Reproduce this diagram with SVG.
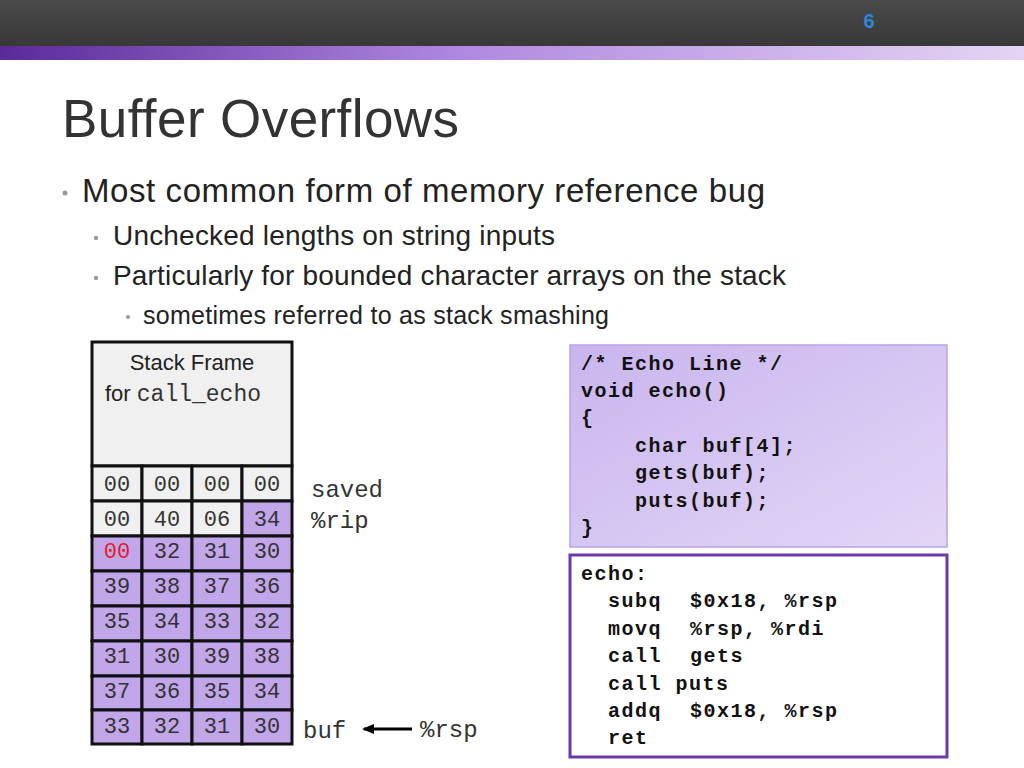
<svg xmlns="http://www.w3.org/2000/svg" width="1024" height="768" viewBox="0 0 1024 768">
<defs>
<linearGradient id="hdr" x1="0" y1="0" x2="0" y2="1"><stop offset="0" stop-color="#4a4a4a"/><stop offset="1" stop-color="#383838"/></linearGradient>
<linearGradient id="bar" x1="0" y1="0" x2="1" y2="0"><stop offset="0" stop-color="#5a2a9a"/><stop offset="0.45" stop-color="#b088e0"/><stop offset="1" stop-color="#e4d4f4"/></linearGradient>
<linearGradient id="code" x1="0" y1="0" x2="1" y2="1"><stop offset="0" stop-color="#c9b5ee"/><stop offset="1" stop-color="#e2d6f6"/></linearGradient>
<marker id="ah" markerWidth="12" markerHeight="10" refX="10" refY="5" orient="auto" markerUnits="userSpaceOnUse"><path d="M0,0 L12,5 L0,10 z" fill="#000"/></marker>
</defs>
<style>
.s{font-family:"Liberation Sans",Arial,sans-serif;fill:#222}
.m{font-family:"Liberation Mono","Courier New",monospace;fill:#333;font-size:22px}
.cb{font-family:"Liberation Mono","Courier New",monospace;font-weight:bold;fill:#111;font-size:20px;letter-spacing:1.5px}
.g{fill:#f0f0f0;stroke:#111;stroke-width:3}
.p{fill:#c2a6ea;stroke:#111;stroke-width:3}
.b{fill:#999}
</style>
<rect width="1024" height="768" fill="#fff"/>
<rect width="1024" height="47" fill="url(#hdr)"/>
<rect y="46" width="1024" height="14" fill="url(#bar)"/>
<text x="869" y="28" class="s" font-size="20" font-weight="bold" style="fill:#2f86d6" text-anchor="middle">6</text>
<text x="62" y="137" class="s" font-size="53" letter-spacing="-1" style="fill:#333" textLength="396">Buffer Overflows</text>
<circle cx="65" cy="193" r="2.5" class="b"/><text x="82" y="202" class="s" font-size="33" textLength="683">Most common form of memory reference bug</text>
<circle cx="96" cy="238" r="2.2" class="b"/><text x="113" y="245" class="s" font-size="28" textLength="442">Unchecked lengths on string inputs</text>
<circle cx="96" cy="278" r="2.2" class="b"/><text x="113" y="285" class="s" font-size="28" textLength="673">Particularly for bounded character arrays on the stack</text>
<circle cx="128" cy="317" r="2" class="b"/><text x="143" y="324" class="s" font-size="25" textLength="466">sometimes referred to as stack smashing</text>
<g id="frame"><rect x="92" y="342" width="200" height="124" class="g"/>
<text x="192" y="370" class="s" font-size="22" text-anchor="middle">Stack Frame</text>
<text x="105" y="401" class="s" font-size="22">for <tspan class="m" style="font-size:23px">call_echo</tspan></text></g>
<g id="stack">
<g class="g"><rect x="92" y="466" width="50" height="35"/><rect x="142" y="466" width="50" height="35"/><rect x="192" y="466" width="50" height="35"/><rect x="242" y="466" width="50" height="35"/>
<rect x="92" y="501" width="50" height="35"/><rect x="142" y="501" width="50" height="35"/><rect x="192" y="501" width="50" height="35"/></g>
<g class="p"><rect x="242" y="501" width="50" height="35"/>
<rect x="92" y="536" width="50" height="35"/><rect x="142" y="536" width="50" height="35"/><rect x="192" y="536" width="50" height="35"/><rect x="242" y="536" width="50" height="35"/>
<rect x="92" y="571" width="50" height="35"/><rect x="142" y="571" width="50" height="35"/><rect x="192" y="571" width="50" height="35"/><rect x="242" y="571" width="50" height="35"/>
<rect x="92" y="606" width="50" height="35"/><rect x="142" y="606" width="50" height="35"/><rect x="192" y="606" width="50" height="35"/><rect x="242" y="606" width="50" height="35"/>
<rect x="92" y="641" width="50" height="35"/><rect x="142" y="641" width="50" height="35"/><rect x="192" y="641" width="50" height="35"/><rect x="242" y="641" width="50" height="35"/>
<rect x="92" y="676" width="50" height="34"/><rect x="142" y="676" width="50" height="34"/><rect x="192" y="676" width="50" height="34"/><rect x="242" y="676" width="50" height="34"/>
<rect x="92" y="710" width="50" height="34"/><rect x="142" y="710" width="50" height="34"/><rect x="192" y="710" width="50" height="34"/><rect x="242" y="710" width="50" height="34"/></g>
<g class="m" text-anchor="middle">
<text x="117" y="491">00</text><text x="167" y="491">00</text><text x="217" y="491">00</text><text x="267" y="491">00</text>
<text x="117" y="526">00</text><text x="167" y="526">40</text><text x="217" y="526">06</text><text x="267" y="526">34</text>
<text x="117" y="558" style="fill:#e0202a">00</text><text x="167" y="558">32</text><text x="217" y="558">31</text><text x="267" y="558">30</text>
<text x="117" y="593">39</text><text x="167" y="593">38</text><text x="217" y="593">37</text><text x="267" y="593">36</text>
<text x="117" y="628">35</text><text x="167" y="628">34</text><text x="217" y="628">33</text><text x="267" y="628">32</text>
<text x="117" y="663">31</text><text x="167" y="663">30</text><text x="217" y="663">39</text><text x="267" y="663">38</text>
<text x="117" y="698">37</text><text x="167" y="698">36</text><text x="217" y="698">35</text><text x="267" y="698">34</text>
<text x="117" y="733">33</text><text x="167" y="733">32</text><text x="217" y="733">31</text><text x="267" y="733">30</text>
</g></g>
<g id="labels" class="m" style="font-size:24px"><text x="311" y="497">saved</text><text x="311" y="528">%rip</text>
<text x="303" y="738">buf</text><text x="420" y="737">%rsp</text></g>
<g id="connectors"><line x1="412" y1="729" x2="364" y2="729" stroke="#000" stroke-width="3" marker-end="url(#ah)"/></g>
<g id="ccode"><rect x="570" y="345" width="377" height="202" fill="url(#code)" stroke="#b9a4e2" stroke-width="1.5"/>
<g class="cb"><text x="581" y="370">/* Echo Line */</text><text x="581" y="397">void echo()</text><text x="581" y="424">{</text>
<text x="635" y="452">char buf[4];</text><text x="635" y="479">gets(buf);</text><text x="635" y="507">puts(buf);</text><text x="581" y="534">}</text></g></g>
<g id="asm"><rect x="570" y="555" width="377" height="202" fill="#fff" stroke="#6a3aa8" stroke-width="3"/>
<g class="cb"><text x="581" y="580">echo:</text>
<text x="608" y="607">subq<tspan x="690">$0x18, %rsp</tspan></text>
<text x="608" y="635">movq<tspan x="690">%rsp, %rdi</tspan></text>
<text x="608" y="662">call<tspan x="690">gets</tspan></text>
<text x="608" y="690">call puts</text>
<text x="608" y="717">addq<tspan x="690">$0x18, %rsp</tspan></text>
<text x="608" y="744">ret</text></g></g>
</svg>
